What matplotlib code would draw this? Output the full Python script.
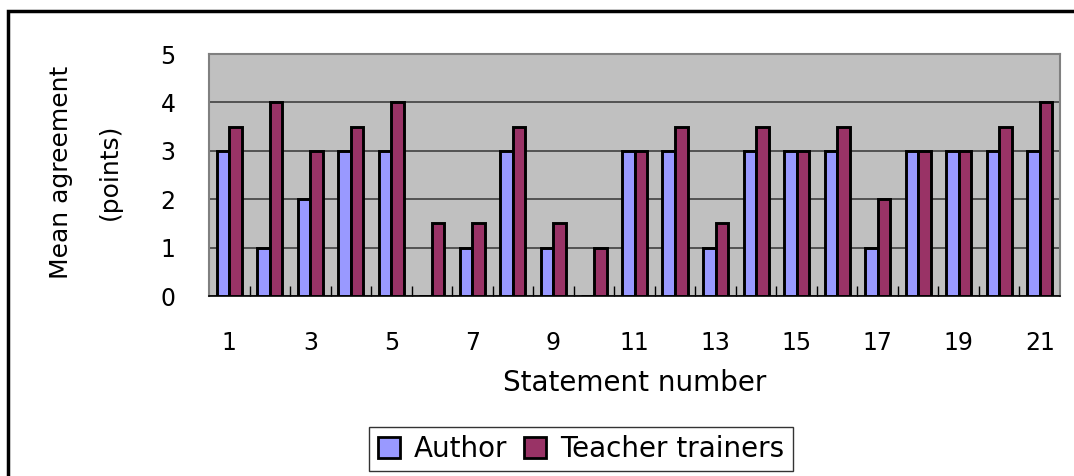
import matplotlib
matplotlib.use("Agg")
import matplotlib.pyplot as plt
import numpy as np
from matplotlib.patches import Rectangle
from matplotlib.ticker import FixedLocator

statements = list(range(1, 22))
author = [3, 1, 2, 3, 3, 0, 1, 3, 1, 0, 3, 3, 1, 3, 3, 3, 1, 3, 3, 3, 3]
teacher_trainers = [3.5, 4, 3, 3.5, 4, 1.5, 1.5, 3.5, 1.5, 1, 3, 3.5, 1.5, 3.5, 3, 3.5, 2, 3, 3, 3.5, 4]
tick_labels = [str(s) if s % 2 == 1 else "" for s in statements]

plt.rcParams["font.family"] = ["DejaVu Sans"]

W, H = 1074, 476
fig = plt.figure(figsize=(W / 100, H / 100), dpi=100)


def px_axes(x0, y0, x1, y1):
    return [x0 / W, 1 - y1 / H, (x1 - x0) / W, (y1 - y0) / H]


ax = fig.add_axes(px_axes(209, 54, 1060, 296))
ax.set_facecolor("#C0C0C0")

x = np.arange(len(statements))
bw = 0.31
ax.bar(x - bw / 2, author, bw, color="#9999FF", edgecolor="black", linewidth=2.1,
       label="Author", zorder=3)
ax.bar(x + bw / 2, teacher_trainers, bw, color="#993366", edgecolor="black", linewidth=2.1,
       label="Teacher trainers", zorder=3)

ax.set_xlim(-0.5, len(statements) - 0.5)
ax.set_ylim(0, 5)
ax.set_yticks(range(0, 6))
ax.yaxis.grid(True, color="#404040", linewidth=1.2, zorder=1)
ax.set_axisbelow(True)

ax.set_xticks(x)
ax.set_xticklabels(tick_labels)
ax.xaxis.set_minor_locator(FixedLocator(np.arange(0.5, len(statements) - 0.5, 1)))
ax.tick_params(axis="x", which="major", length=0, pad=25, labelsize=17)
ax.tick_params(axis="x", which="minor", length=7, direction="in", width=1, color="black")
ax.tick_params(axis="y", length=0, pad=24, labelsize=17)

for side in ["top", "right", "left"]:
    ax.spines[side].set_color("#808080")
    ax.spines[side].set_linewidth(1.5)
ax.spines["bottom"].set_color("black")
ax.spines["bottom"].set_linewidth(1.2)

fig.text(61 / W, 1 - 172 / H, "Mean agreement", rotation=90, ha="center", va="center", fontsize=18)
fig.text(110 / W, 1 - 172 / H, "(points)", rotation=90, ha="center", va="center", fontsize=18)
fig.text(635 / W, 1 - 383 / H, "Statement number", ha="center", va="center", fontsize=20)

fig.legend(loc="center", bbox_to_anchor=(581 / W, 1 - 449 / H), ncol=2, fontsize=20,
           frameon=True, fancybox=False, edgecolor="black", handlelength=0.8, handleheight=0.8,
           handletextpad=0.5, columnspacing=0.6, borderpad=0.3, borderaxespad=0)
leg = fig.legends[0]
leg.get_frame().set_linewidth(1.0)
for p in leg.get_patches():
    p.set_linewidth(2)

fig.patches.append(Rectangle((8 / W, -0.2), 1.2, 1.2 - 11 / H, transform=fig.transFigure,
                             fill=False, edgecolor="black", linewidth=2.5))

fig.savefig("out.png", dpi=100)
